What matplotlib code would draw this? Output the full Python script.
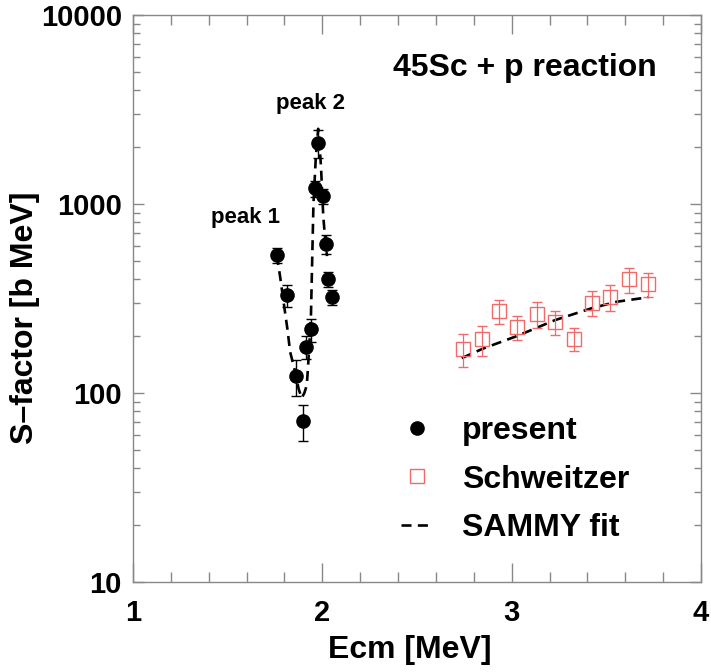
import numpy as np
import matplotlib
matplotlib.use("Agg")
import matplotlib.pyplot as plt
from matplotlib.lines import Line2D
from matplotlib.ticker import MultipleLocator, LogLocator, FuncFormatter, NullFormatter

# present data (Ecm [MeV], S-factor [b MeV], error)
present_x = [1.759, 1.812, 1.859, 1.900, 1.914, 1.940, 1.961, 1.979, 2.002, 2.020, 2.029, 2.050]
present_y = [537, 330, 123, 71, 176, 217, 1211, 2110, 1102, 614, 400, 321]
present_err = [50, 45, 26, 15, 25, 30, 120, 350, 100, 68, 38, 30]

# Schweitzer data
schw_x = [2.742, 2.842, 2.935, 3.030, 3.133, 3.229, 3.331, 3.423, 3.520, 3.622, 3.722]
schw_y = [171, 192, 272, 224, 262, 238, 194, 301, 323, 400, 376]
schw_err = [33, 35, 40, 33, 42, 35, 28, 45, 50, 60, 55]

# SAMMY fit curves
fit1_x = [1.759, 1.777, 1.798, 1.815, 1.830, 1.856, 1.875, 1.891, 1.905, 1.918,
          1.925, 1.940, 1.953, 1.966, 1.978, 1.986, 1.993, 2.005, 2.015, 2.025]
fit1_y = [537, 413, 290, 220, 165, 130, 105, 94, 100, 110,
          140, 260, 1000, 1800, 2500, 2000, 1570, 860, 650, 530]
fit2_x = [2.736, 2.85, 3.027, 3.229, 3.423, 3.555, 3.722]
fit2_y = [153, 172, 200, 243, 281, 304, 321]

plt.rcParams['font.family'] = ['Liberation Sans', 'DejaVu Sans']
plt.rcParams['font.weight'] = 'bold'

fig = plt.figure(figsize=(7.11, 6.72), dpi=100)
ax = fig.add_axes([133 / 711, 1 - 582 / 672, 568 / 711, 567 / 672])

red = '#f06a6a'
dash = (0, (3.8, 2.4))

ax.plot(fit1_x, fit1_y, color='black', lw=1.9, linestyle=dash, zorder=2)
ax.plot(fit2_x, fit2_y, color='black', lw=1.9, linestyle=dash, zorder=2)

ax.errorbar(present_x, present_y, yerr=present_err, fmt='o', color='black',
            markersize=9.5, capsize=3.6, elinewidth=1, capthick=1, zorder=3)
ax.errorbar(schw_x, schw_y, yerr=schw_err, fmt='s', mfc='none', mec=red, color=red,
            markersize=10, mew=1, capsize=3.6, elinewidth=0.9, capthick=0.9, zorder=3)

ax.set_yscale('log')
ax.set_xlim(1, 4)
ax.set_ylim(10, 10000)

ax.xaxis.set_major_locator(MultipleLocator(1))
ax.xaxis.set_minor_locator(MultipleLocator(0.2))
ax.yaxis.set_major_locator(LogLocator(base=10))
ax.yaxis.set_minor_locator(LogLocator(base=10, subs=np.arange(2, 10)))
ax.yaxis.set_major_formatter(FuncFormatter(lambda v, p: f'{v:g}'))
ax.yaxis.set_minor_formatter(NullFormatter())

for s in ax.spines.values():
    s.set_color('#888888')
    s.set_linewidth(1)
ax.tick_params(which='both', direction='in', top=True, right=True, color='#888888',
               labelsize=21, width=1)
ax.tick_params(axis='x', which='major', length=14, pad=12)
ax.tick_params(axis='x', which='minor', length=7)
ax.tick_params(axis='y', which='major', length=8, pad=8)
ax.tick_params(axis='y', which='minor', length=5)

ax.set_xlabel('Ecm [MeV]', fontsize=23, fontweight='bold')
ax.set_ylabel('S\u2013factor [b MeV]', fontsize=23, fontweight='bold')
ax.xaxis.set_label_coords(0.488, -0.093)
ax.yaxis.set_label_coords(-0.164, 0.466)

ax.text(1.592, 844, 'peak 1', fontsize=16, fontweight='bold', ha='center', va='center')
ax.text(1.940, 3420, 'peak 2', fontsize=16, fontweight='bold', ha='center', va='center')
ax.text(3.071, 5250, '45Sc + p reaction', fontsize=23, fontweight='bold', ha='center', va='center')

handles = [
    Line2D([], [], marker='o', color='black', linestyle='none', markersize=9.5),
    Line2D([], [], marker='s', mfc='none', mec=red, linestyle='none', markersize=10),
    Line2D([], [], color='black', lw=1.9, linestyle=dash),
]
labels = ['present', 'Schweitzer', 'SAMMY fit']
ax.legend(handles, labels, loc='upper left', bbox_to_anchor=(0.472, 0.292),
          frameon=False, fontsize=23, handlelength=1.0, handletextpad=0.9,
          labelspacing=0.57, borderpad=0, borderaxespad=0)

fig.savefig('out.png', dpi=100)
